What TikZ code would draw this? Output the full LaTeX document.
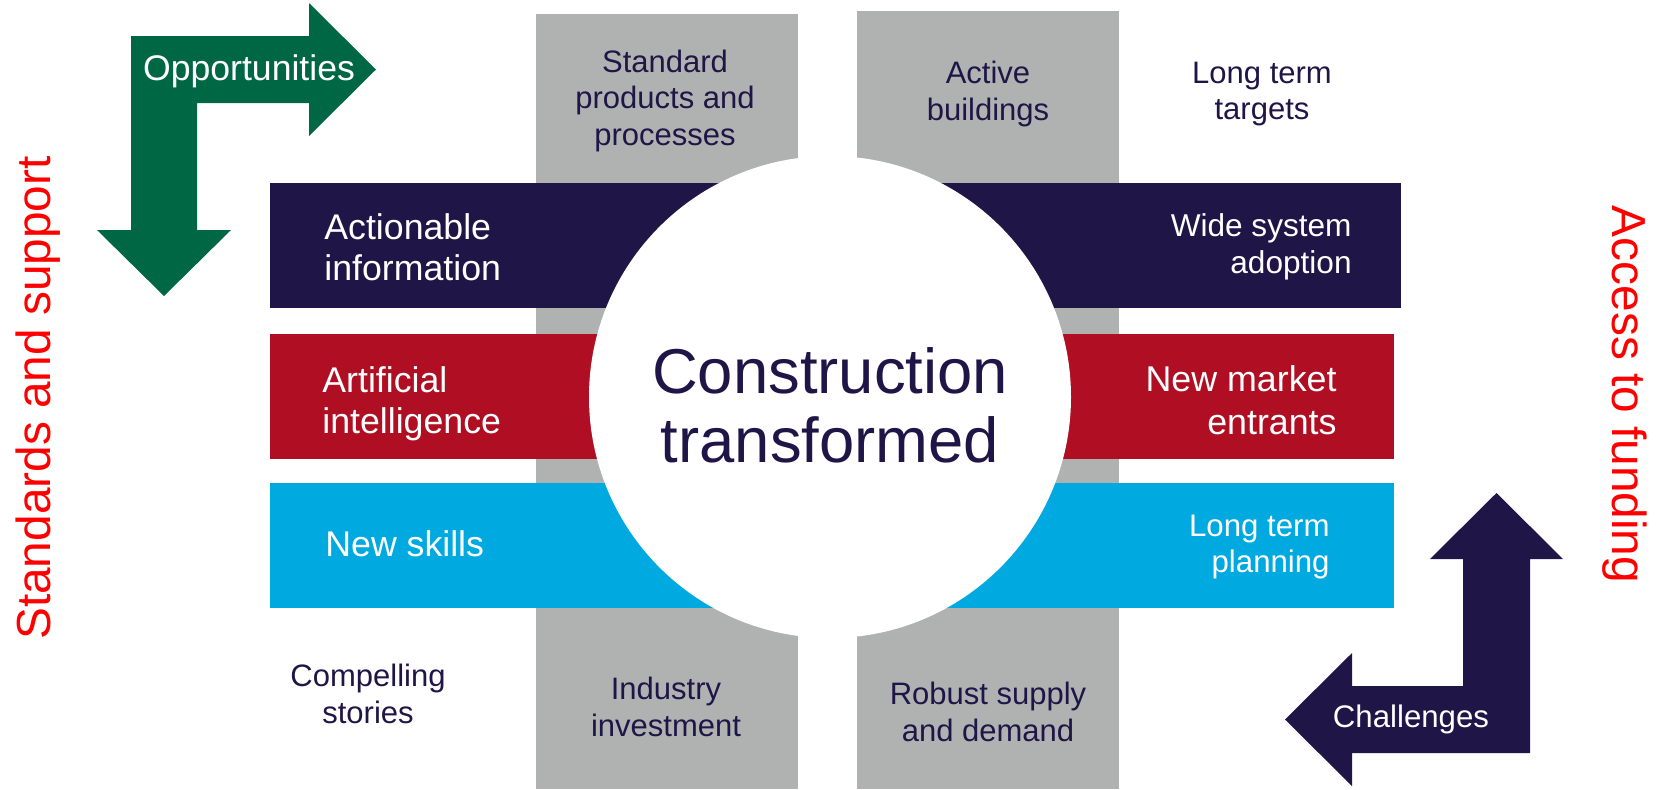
\documentclass[tikz,border=0pt]{standalone}
\usepackage{fontspec}
\setmainfont{Liberation Sans}
\usepackage{tikz}
\usetikzlibrary{positioning}
\definecolor{ctnavy}{RGB}{32,21,71}
\definecolor{ctgreen}{RGB}{0,103,69}
\definecolor{ctred}{RGB}{175,14,35}
\definecolor{ctcyan}{RGB}{0,169,224}
\definecolor{ctgrey}{RGB}{176,178,177}
\tikzset{
    bartext/.style ={inner sep=0pt, text=white},
    barleft/.style ={bartext, anchor=west, align=left, font=\fontsize{17.85}{20.5}\selectfont},
    barright/.style={bartext, anchor=east, align=right},
    greytext/.style={inner sep=0pt, text=ctnavy, align=center, font=\fontsize{15.5}{18.25}\selectfont},
    side/.style    ={inner sep=0pt, text=red, anchor=base, font=\fontsize{23.9}{28}\selectfont},
    arrowtext/.style={inner sep=0pt, text=white, anchor=base}
}
\begin{document}
\begin{tikzpicture}[x=0.5pt,y=-0.5pt]
    \useasboundingbox (0,0) rectangle (1662,789);

    % Grey columns
    \fill[ctgrey] (536,14) rectangle (798,789);
    \fill[ctgrey] (857,11) rectangle (1119,789);

    % Bars
    \fill[ctnavy] (270,183) rectangle (1401,308);
    \fill[ctred]  (270,334) rectangle (1394,459);
    \fill[ctcyan] (270,483) rectangle (1394,608);

    % Centre
    \fill[white] (830,397) circle[radius=120.5pt];
    \node[inner sep=0pt, text=ctnavy, align=center, font=\fontsize{31.7}{34.5}\selectfont]
        (hub) at (830,405) {Construction\\transformed};

    %%Nodes on the bars
    \node[barleft] (actinfo) at (324,247) {Actionable\\information};
    \node[barleft] (artint) at (322,404) {Artificial\\intelligence};
    \node[bartext, anchor=base west, font=\fontsize{17.85}{20.5}\selectfont] (skills) at (325,556) {New skills};
    \node[barright, font=\fontsize{15.8}{18.5}\selectfont] (adoption) at (1352,246.5) {Wide system\\adoption};
    \node[barright, font=\fontsize{17.9}{21.5}\selectfont] (entrants) at (1337,400.5) {New market\\entrants};
    \node[barright, font=\fontsize{15.6}{18}\selectfont] (planning) at (1330,547) {Long term\\planning};

    %%Nodes round the bars
    \node[greytext] (standard) at (665,100.8) {Standard\\products and\\processes};
    \node[greytext] (active) at (988,94) {Active\\buildings};
    \node[greytext] (targets) at (1262,94) {Long term\\targets};
    \node[greytext] (stories) at (368,694) {Compelling\\stories};
    \node[greytext] (invest) at (666,707) {Industry\\investment};
    \node[greytext] (supply) at (988,712) {Robust supply\\and demand};

    % Arrows
    \fill[ctgreen] (131,36) -- (309,36) -- (309,3) -- (376,69.5) -- (309,136) -- (309,103)
        -- (197,103) -- (197,230) -- (231,230) -- (164,296) -- (97,230) -- (131,230) -- cycle;
    \fill[ctnavy] (1530,753) -- (1352,753) -- (1352,786) -- (1285,719.5) -- (1352,653) -- (1352,686)
        -- (1463,686) -- (1463,559) -- (1430,559) -- (1496.5,493) -- (1563,559) -- (1530,559) -- cycle;
    \node[arrowtext, font=\fontsize{17.8}{20}\selectfont] (opps) at (249,80) {Opportunities};
    \node[arrowtext, font=\fontsize{15.6}{18}\selectfont] (chall) at (1411,727) {Challenges};

    % Side labels
    \node[side, rotate=90] (standards) at (50,398) {Standards and support};
    \node[side, rotate=-90] (funding) at (1612,394.5) {Access to funding};
\end{tikzpicture}
\end{document}
